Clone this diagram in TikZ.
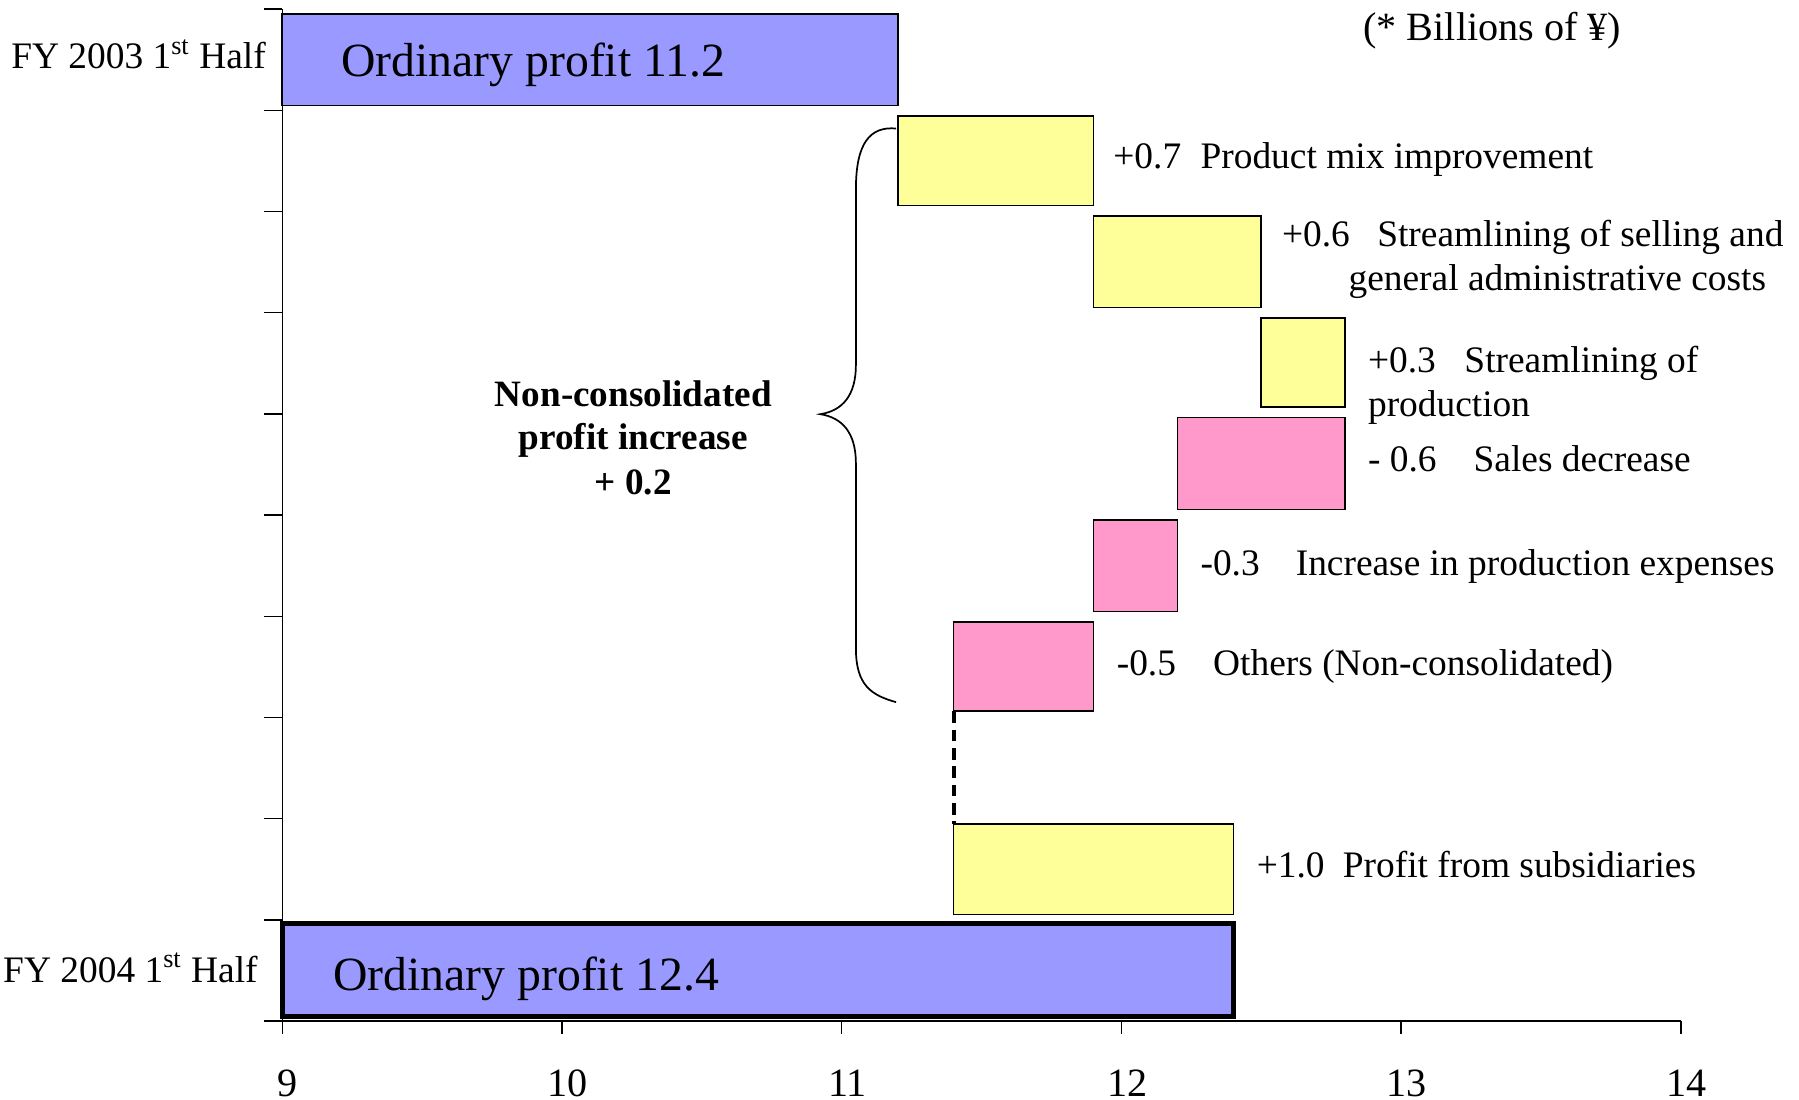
\documentclass[tikz,border=0pt]{standalone}
\usepackage{fontspec}
\setmainfont{Liberation Serif}
\definecolor{barblue}{HTML}{9999FF}
\definecolor{baryellow}{HTML}{FFFF99}
\definecolor{barpink}{HTML}{FF99CC}
\begin{document}
\begin{tikzpicture}[x=0.5pt,y=-0.5pt,
  bar/.style={draw=black,line width=0.75pt},
  bluebar/.style={bar,fill=barblue},
  yelbar/.style={bar,fill=baryellow},
  pinkbar/.style={bar,fill=barpink},
  axisline/.style={draw=black,line width=0.6pt},
  lab/.style={font=\fontsize{16.3}{19.5}\selectfont,inner sep=0pt,anchor=west,text height=11.5pt,text depth=3.5pt},
  biglab/.style={font=\fontsize{20.8}{24}\selectfont,inner sep=0pt,anchor=west,text height=14.5pt,text depth=4.5pt},
  numlab/.style={font=\fontsize{17.5}{20}\selectfont,inner sep=0pt,text height=12.5pt,text depth=0pt},
  boldlab/.style={font=\fontsize{16.2}{19.5}\selectfont\bfseries,inner sep=0pt,text height=11.5pt,text depth=3.5pt},
  conn/.style={line width=1.7pt,dash pattern=on 5pt off 3pt}
]
\useasboundingbox (0,0) rectangle (1568,958);

% axes
\draw[axisline] (246,8) -- (246,890) -- (1465,890);
\foreach \i in {0,...,10}{
  \draw[axisline] (230,{8+88.2*\i}) -- (246,{8+88.2*\i});
}
\foreach \v/\xx in {9/246,10/489.8,11/733.6,12/977.4,13/1221.2,14/1465}{
  \draw[axisline] (\xx,890) -- (\xx,901);
  \node[numlab,anchor=center] (ax\v) at (\xx+5,943.5) {\v};
}

% bars
\path[bluebar] (246,12) rectangle (782.4,92);
\path[yelbar] (782.4,101) rectangle (953,179);
\path[yelbar] (953,188) rectangle (1099.3,268);
\path[yelbar] (1099.3,277) rectangle (1172.4,355);
\path[pinkbar] (1026.2,364) rectangle (1172.4,444);
\path[pinkbar] (953,453) rectangle (1026.2,533);
\path[pinkbar] (831.1,542) rectangle (953,620);
\path[yelbar] (831.1,718) rectangle (1075,797);
\path[bluebar,line width=2pt] (246,805) rectangle (1075,886);

% dashed connector
\coordinate (othersbottom) at (831.1,620);
\coordinate (subtop) at (831.1,718);
\draw[conn] (othersbottom) -- (subtop);

% brace
\draw[line width=0.75pt] (781,112) .. controls (758,110) and (746,125) .. (746,165)
  -- (746,318) .. controls (746,345) and (734,358) .. (715,361)
  .. controls (734,364) and (746,377) .. (746,404)
  -- (746,565) .. controls (746,598) and (760,606) .. (781,612);

% category labels
\node[lab,anchor=east] (fy03) at (232,52) {FY 2003 1\textsuperscript{st} Half};
\node[lab,anchor=east] (fy04) at (225,848) {FY 2004 1\textsuperscript{st} Half};

\node[biglab] (op1) at (297,57) {Ordinary profit 11.2};
\node[biglab] (op2) at (290,853) {Ordinary profit 12.4};

\node[numlab,anchor=west,text depth=4pt] (unit) at (1188,27) {(* Billions of ¥)};

% item labels
\node[lab] (n1) at (970,139) {+0.7};
\node[lab] (t1) at (1046,139) {Product mix improvement};
\node[lab] (n2) at (1117,207) {+0.6};
\node[lab] (t2) at (1200,207) {Streamlining of selling and};
\node[lab] (t2b) at (1175,245) {general administrative costs};
\node[lab] (n3) at (1192,317) {+0.3};
\node[lab] (t3) at (1276,317) {Streamlining of};
\node[lab] (t3b) at (1192,355) {production};
\node[lab] (n4) at (1192,403) {- 0.6};
\node[lab] (t4) at (1284,403) {Sales decrease};
\node[lab] (n5) at (1046,494) {-0.3};
\node[lab] (t5) at (1129,494) {Increase in production expenses};
\node[lab] (n6) at (973,581) {-0.5};
\node[lab] (t6) at (1057,581) {Others (Non-consolidated)};
\node[lab] (n7) at (1095,757) {+1.0};
\node[lab] (t7) at (1170,757) {Profit from subsidiaries};

% brace label
\node[boldlab] (b1) at (552,346) {Non-consolidated};
\node[boldlab] (b2) at (552,384) {profit increase};
\node[boldlab] (b3) at (552,423) {+ 0.2};
\end{tikzpicture}
\end{document}
